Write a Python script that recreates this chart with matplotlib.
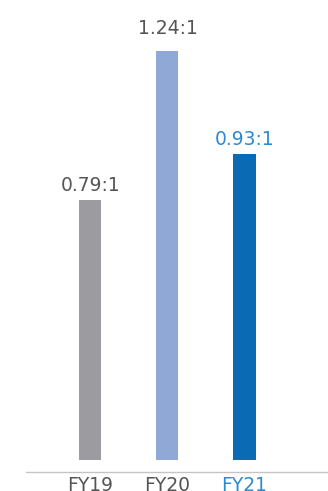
import matplotlib.pyplot as plt

# ratio values
years = ["FY19", "FY20", "FY21"]
ratios = [0.79, 1.24, 0.93]
labels = ["0.79:1", "1.24:1", "0.93:1"]

bar_colors = ["#9c9ca0", "#8fa8d6", "#0a6ab4"]
text_colors = ["#555555", "#555555", "#2b8ad2"]
label_pads = [5, 13, 5]  # px gap between bar top and value label

fig = plt.figure(figsize=(3.28, 4.91), dpi=100)
ax = fig.add_axes([0.078, 0.0397, 0.922, 0.9603])

x = list(range(len(years)))
ax.bar(x, ratios, width=0.286, color=bar_colors)

for xi, v, lab, c, pad in zip(x, ratios, labels, text_colors, label_pads):
    ax.annotate(lab, (xi, v), xytext=(0, pad * 0.72), textcoords="offset points",
                ha="center", va="bottom", fontsize=13.5, color=c)

ax.set_xlim(-0.842, 3.084)
ax.set_ylim(-0.0349, 1.396)

ax.set_xticks(x)
ax.set_xticklabels(years, fontsize=13.5)
for tl, c in zip(ax.get_xticklabels(), text_colors):
    tl.set_color(c)
ax.tick_params(axis="x", length=0, pad=3)
ax.set_yticks([])

for side in ["top", "right", "left"]:
    ax.spines[side].set_visible(False)
ax.spines["bottom"].set_color("#c4c4c4")
ax.spines["bottom"].set_linewidth(1.0)

fig.savefig("out.png", dpi=100)
